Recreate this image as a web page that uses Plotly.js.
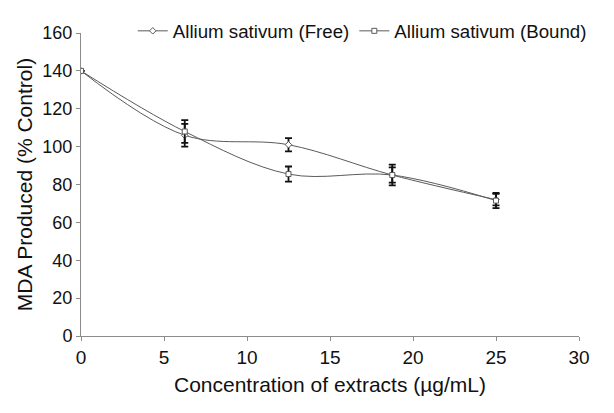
<!DOCTYPE html>
<html>
<head>
<meta charset="utf-8">
<script src="https://cdn.plot.ly/plotly-3.0.1.min.js"></script>
<style>
	html, body { margin: 0; padding: 0; background: #fff; }
	#chart { width: 614px; height: 413px; }
</style>
</head>
<body>
<div id="chart"></div>
<script>
	// concentrations (µg/mL)
	const concentration = [0, 6.25, 12.5, 18.75, 25];

	// MDA produced (% control)
	const freeValues = [140, 106, 101, 85, 72];
	const freeErrors = [0, 6, 3.5, 4, 3];

	const boundValues = [140, 108, 85.5, 85, 71.5];
	const boundErrors = [0, 6, 4, 5.5, 4];

	const seriesNames = ['Allium sativum (Free)', 'Allium sativum (Bound)'];

	const lineGrey = '#5a5a5a';
	const fontFamily = 'Liberation Sans, Arial, sans-serif';

	// white-filled markers with a grey outline (like the original)
	const makeTrace = ( name, y, err, symbol ) => ({
		x: concentration,
		y: y,
		name: name,
		type: 'scatter',
		mode: 'lines+markers',
		line: { color: lineGrey, width: 1, shape: 'spline', smoothing: 1 },
		marker: { symbol: symbol, size: 5, color: '#fff', line: { color: lineGrey, width: 1 } },
		error_y: { type: 'data', array: err, visible: true, color: '#111', thickness: 1.8, width: 3.5 },
	});

	const data = [
		makeTrace( seriesNames[0], freeValues, freeErrors, 'diamond' ),
		makeTrace( seriesNames[1], boundValues, boundErrors, 'square' ),
	];

	const axisCommon = {
		showgrid: false,
		zeroline: false,
		showline: true,
		linecolor: '#8c8c8c',
		linewidth: 1,
		ticks: 'outside',
		ticklen: 4,
		tickcolor: '#8c8c8c',
	};

	const layout = {
		width: 614,
		height: 413,
		margin: { l: 81, r: 35, t: 26, b: 77 },
		paper_bgcolor: '#fff',
		plot_bgcolor: '#fff',
		font: { family: fontFamily, color: '#111' },
		showlegend: true,
		legend: {
			orientation: 'h',
			x: 0.104,
			xanchor: 'left',
			y: 1.006,
			yanchor: 'middle',
			font: { size: 18.7, color: '#111' },
			itemwidth: 30,
			bgcolor: 'rgba(0,0,0,0)',
		},
		xaxis: Object.assign({}, axisCommon, {
			range: [0, 30],
			tickvals: [0, 5, 10, 15, 20, 25, 30],
			tickfont: { family: fontFamily, size: 19, color: '#111' },
			title: { text: 'Concentration of extracts (µg/mL)', font: { size: 21, color: '#111' }, standoff: 10 },
		}),
		yaxis: Object.assign({}, axisCommon, {
			range: [0, 160],
			tickvals: [0, 20, 40, 60, 80, 100, 120, 140, 160],
			tickfont: { family: fontFamily, size: 18, color: '#111' },
			title: { text: 'MDA Produced (% Control)', font: { size: 21, color: '#111' }, standoff: 4 },
		}),
	};

	Plotly.newPlot( 'chart', data, layout, { displayModeBar: false, staticPlot: true } );
</script>
</body>
</html>
